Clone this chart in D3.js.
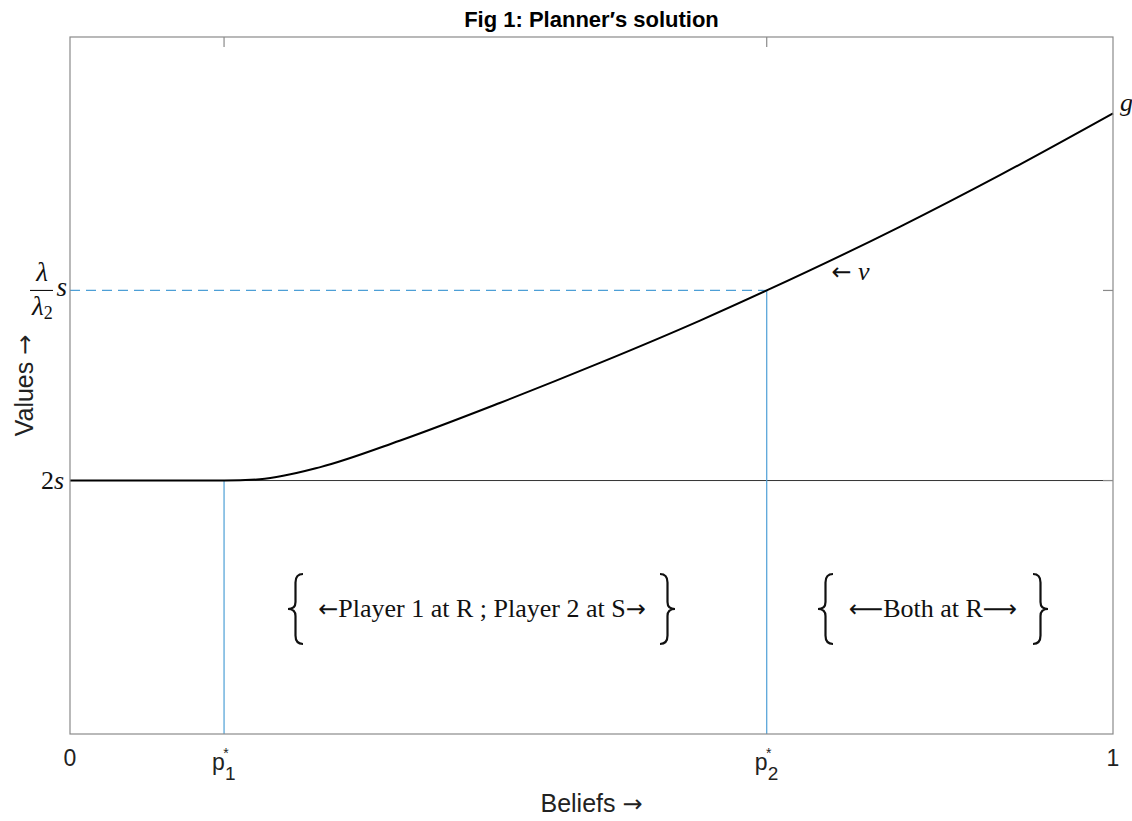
<!DOCTYPE html>
<html>
<head>
<meta charset="utf-8">
<script src="https://cdn.jsdelivr.net/npm/d3@7"></script>
<style>
body { margin:0; background:#fff; }
.tick-lbl { font-family: "Liberation Sans", Arial, sans-serif; font-size:23px; fill:#222; }
.tex { font-family: "Liberation Serif", "DejaVu Serif", serif; fill:#111; }
.arr { font-family: "DejaVu Sans", sans-serif; }
</style>
</head>
<body>
<svg id="graph1"></svg>
<script>
// beliefs (x) and planner value g (y, in units of s)
var beliefs = [0, 0.1477, 0.182, 0.240, 0.316, 0.412, 0.508, 0.604, 0.668, 0.796, 0.892, 1]
var values  = [2, 2, 2.005, 2.053, 2.157, 2.306, 2.464, 2.631, 2.75, 3.002, 3.206, 3.449]

var pStar = [0.1477, 0.668]        // p1*, p2*
var levelTwoS = 2                  // 2s
var levelLambda = 2.75             // (lambda/lambda2) s
var xTickVals = [0, 1]
var xTickText = ["0", "1"]

var screen = {width:1132, height:821}
var margins = {left:70, right:19, top:37, bottom:87}
var graph = {
    width: screen.width - margins.left - margins.right,
    height: screen.height - margins.top - margins.bottom
}

var svg = d3.select("#graph1")
    .attr("width", screen.width)
    .attr("height", screen.height)

var xScale = d3.scaleLinear().domain([0,1]).range([0, graph.width])
var yScale = d3.scaleLinear().domain([1, 3.75]).range([graph.height, 0])

var target = svg.append("g")
    .attr("transform","translate("+margins.left+","+margins.top+")")

var blue = "#4d9fd6"
var axisCol = "#8a8a8a"

// horizontal 2s line
target.append("line")
    .attr("x1", 0).attr("x2", graph.width)
    .attr("y1", yScale(levelTwoS)).attr("y2", yScale(levelTwoS))
    .attr("stroke","#333").attr("stroke-width",1)

// dashed lambda level
target.append("line")
    .attr("x1", 0).attr("x2", xScale(pStar[1]))
    .attr("y1", yScale(levelLambda)).attr("y2", yScale(levelLambda))
    .attr("stroke",blue).attr("stroke-width",1.2)
    .attr("stroke-dasharray","10,6")

// vertical blue lines
target.append("line")
    .attr("x1", xScale(pStar[0])).attr("x2", xScale(pStar[0]))
    .attr("y1", yScale(levelTwoS)).attr("y2", graph.height)
    .attr("stroke",blue).attr("stroke-width",1.2)
target.append("line")
    .attr("x1", xScale(pStar[1])).attr("x2", xScale(pStar[1]))
    .attr("y1", yScale(levelLambda)).attr("y2", graph.height)
    .attr("stroke",blue).attr("stroke-width",1.2)

// curve
var line = d3.line()
    .x(function(d,i){ return xScale(beliefs[i]) })
    .y(function(d){ return yScale(d) })
    .curve(d3.curveMonotoneX)
target.append("path")
    .datum(values)
    .attr("d", line)
    .attr("fill","none")
    .attr("stroke","#000")
    .attr("stroke-width",2)

// box + inward ticks (matlab style)
target.append("rect")
    .attr("x",0).attr("y",0)
    .attr("width",graph.width).attr("height",graph.height)
    .attr("fill","none").attr("stroke",axisCol).attr("stroke-width",1.2)

var tl = 10
pStar.forEach(function(p){
    target.append("line")
        .attr("x1",xScale(p)).attr("x2",xScale(p))
        .attr("y1",0).attr("y2",tl)
        .attr("stroke",axisCol).attr("stroke-width",1.2)
})
;[levelTwoS, levelLambda].forEach(function(v){
    target.append("line")
        .attr("x1",graph.width-tl).attr("x2",graph.width)
        .attr("y1",yScale(v)).attr("y2",yScale(v))
        .attr("stroke",axisCol).attr("stroke-width",1.2)
})

// x tick labels
xTickVals.forEach(function(v,i){
    target.append("text")
        .classed("tick-lbl",true)
        .attr("x",xScale(v)).attr("y",graph.height+32)
        .attr("text-anchor","middle")
        .text(xTickText[i])
})
pStar.forEach(function(p,i){
    var t = target.append("text")
        .classed("tick-lbl",true)
    t.append("tspan").attr("x",xScale(p)-12).attr("y",graph.height+36).text("p")
    t.append("tspan").attr("x",xScale(p)+1).attr("y",graph.height+46)
        .style("font-size","19px").text(String(i+1))
    target.append("text")
        .classed("tick-lbl",true)
        .style("font-size","14px")
        .attr("x",xScale(p)+2).attr("y",graph.height+24)
        .attr("text-anchor","middle")
        .text("*")
})

// y tick labels (tex style)
target.append("text")
    .classed("tex",true)
    .style("font-size","26px")
    .attr("x",-6).attr("y",yScale(levelTwoS)+8)
    .attr("text-anchor","end")
    .html('2<tspan font-style="italic">s</tspan>')

var ly = yScale(levelLambda)
target.append("text").classed("tex",true).style("font-size","27px").style("font-style","italic")
    .attr("x",-28).attr("y",ly-9).attr("text-anchor","middle").text("λ")
target.append("line")
    .attr("x1",-40).attr("x2",-17).attr("y1",ly).attr("y2",ly)
    .attr("stroke","#111").attr("stroke-width",1.1)
target.append("text").classed("tex",true).style("font-size","27px")
    .attr("x",-38).attr("y",ly+25)
    .html('<tspan font-style="italic">λ</tspan><tspan font-size="18px" dy="4">2</tspan>')
target.append("text").classed("tex",true).style("font-size","27px").style("font-style","italic")
    .attr("x",-3).attr("y",ly+6).attr("text-anchor","end").text("s")

// annotations
target.append("text").classed("tex",true).style("font-size","26px")
    .attr("x",xScale(0.73)).attr("y",yScale(2.82)+7)
    .html('<tspan class="arr" font-size="24px">←</tspan> <tspan font-style="italic">v</tspan>')
target.append("text").classed("tex",true).style("font-size","26px").style("font-style","italic")
    .attr("x",graph.width+7).attr("y",yScale(3.45)-2)
    .text("g")

var brace = function(x0, yTop, yBot, w, dir)
{
    var m = (yTop+yBot)/2, h = yBot-yTop
    var xa = x0 + dir*w, xm = x0 + dir*w/2
    return "M"+xa+","+yTop+
        " Q"+xm+","+yTop+" "+xm+","+(yTop+h*0.12)+
        " L"+xm+","+(m-h*0.1)+
        " Q"+xm+","+m+" "+x0+","+m+
        " Q"+xm+","+m+" "+xm+","+(m+h*0.1)+
        " L"+xm+","+(yBot-h*0.12)+
        " Q"+xm+","+yBot+" "+xa+","+yBot
}

var regionLabels = [
    {pre:"←", mid:"Player 1 at R ; Player 2 at S", post:"→", l:288, r:675, c:482},
    {pre:"⟵", mid:"Both at R", post:"⟶", l:818, r:1048, c:933}
]
var by0 = 574 - margins.top, by1 = 644 - margins.top
regionLabels.forEach(function(d){
    target.append("path")
        .attr("d", brace(d.l - margins.left, by0, by1, 15, 1))
        .attr("fill","none").attr("stroke","#111").attr("stroke-width",2.2)
    target.append("path")
        .attr("d", brace(d.r - margins.left, by0, by1, 15, -1))
        .attr("fill","none").attr("stroke","#111").attr("stroke-width",2.2)
    var t = target.append("text").classed("tex",true).style("font-size","26px")
        .attr("x", d.c - margins.left).attr("y", (by0+by1)/2+8)
        .attr("text-anchor","middle")
    t.append("tspan").classed("arr",true).style("font-size","24px").text(d.pre)
    t.append("tspan").text(d.mid)
    t.append("tspan").classed("arr",true).style("font-size","24px").text(d.post)
})

// titles
svg.append("text")
    .attr("x", margins.left + graph.width/2).attr("y", 27)
    .attr("text-anchor","middle")
    .style("font-family","'Liberation Sans', Arial, sans-serif")
    .style("font-weight","bold").style("font-size","22px")
    .text("Fig 1: Planner′s solution")

var xl = svg.append("text")
    .attr("x", margins.left + graph.width/2).attr("y", 812)
    .attr("text-anchor","middle")
    .style("font-family","'Liberation Sans', Arial, sans-serif")
    .style("font-size","25px").style("fill","#222")
xl.append("tspan").text("Beliefs ")
xl.append("tspan").classed("arr",true).style("font-size","24px").text("→")

var yl = svg.append("g")
    .attr("transform","translate(33,"+(margins.top+graph.height/2)+")")
    .append("text")
    .attr("transform","rotate(270)")
    .attr("text-anchor","middle")
    .style("font-family","'Liberation Sans', Arial, sans-serif")
    .style("font-size","25px").style("fill","#222")
yl.append("tspan").text("Values ")
yl.append("tspan").classed("arr",true).style("font-size","24px").text("→")
</script>
</body>
</html>
